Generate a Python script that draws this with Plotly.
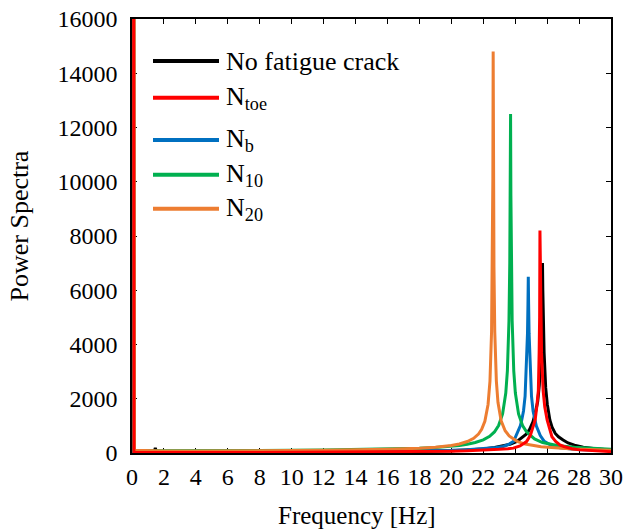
import plotly.graph_objects as go

# Power spectra of the test specimen at successive fatigue-crack stages
freq_intact = [0, 0.09, 0.12, 1, 1.38, 1.46, 1.54, 2, 4, 8, 12, 16, 18, 20, 21, 22, 22.71, 23.16,
               23.71, 24.11, 24.42, 24.71, 24.91, 25.11, 25.25, 25.41, 25.51, 25.61, 25.66, 25.69,
               25.71, 25.73, 25.76, 25.81, 25.91, 26.01, 26.17, 26.31, 26.51, 26.71, 27.0, 27.31,
               27.71, 28.26, 29.01, 30]
power_intact = [60000, 30000, 20, 12, 15, 190, 15, 14, 16, 20, 26, 38, 55, 80, 110, 150, 200, 250,
                330, 430, 560, 700, 880, 1150, 1450, 1900, 2500, 3700, 4900, 6000,
                7000, 6000, 4900, 3700, 2400, 1800, 1217, 950, 720, 600, 480, 370,
                290, 210, 160, 115]

freq_toe = [0, 0.09, 0.12, 1, 2, 4, 8, 12, 16, 18, 20, 21, 22, 23, 23.55, 23.88, 24.3, 24.71,
            24.95, 25.1, 25.25, 25.35, 25.45, 25.5, 25.53, 25.55, 25.57, 25.6, 25.65, 25.75,
            25.85, 26.0, 26.15, 26.3, 26.55, 26.8, 27.05, 27.55, 28.05, 28.55, 29.3, 30]
power_toe = [60000, 30000, 20, 15, 15, 17, 21, 27, 38, 49, 66, 80, 100, 135, 160, 180, 260, 420,
             650, 900, 1217, 1700, 2300, 3700, 5000, 8200, 6600, 5000, 3700, 2300,
             1700, 1217, 900, 600, 420, 300, 240, 160, 115, 95, 70, 50]

freq_b = [0, 0.09, 0.12, 1, 2, 4, 8, 12, 16, 18, 19, 20, 21, 22, 22.82, 23.25, 23.62, 23.9,
          24.07, 24.32, 24.41, 24.52, 24.62, 24.72, 24.77, 24.8, 24.82, 24.84, 24.87, 24.92,
          25.02, 25.12, 25.23, 25.32, 25.57, 25.82, 26.38, 26.82, 27.82, 28.82, 30]
power_b = [60000, 30000, 40, 35, 33, 35, 42, 52, 66, 74, 83, 98, 119, 155, 200, 240, 330, 430,
           640, 1000, 1217, 1550, 2100, 3300, 4400, 5500, 6500, 5500, 4400, 3300,
           2100, 1550, 1217, 1000, 640, 430, 240, 190, 130, 105, 85]

freq_10 = [0, 0.09, 0.12, 1, 2, 4, 8, 12, 16, 17, 18, 19, 20, 20.5, 21, 21.5, 22, 22.4, 22.7,
           22.96, 23.21, 23.41, 23.51, 23.61, 23.66, 23.69, 23.71, 23.73, 23.76, 23.81, 23.91,
           24.01, 24.21, 24.46, 24.71, 25.21, 25.71, 26.71, 27.71, 28.71, 30]
power_10 = [60000, 30000, 80, 78, 76, 80, 90, 110, 140, 155, 176, 205, 249, 280, 324, 386, 485, 613, 775,
            1010, 1440, 2210, 3030, 4870, 7000, 9500, 12500, 9500, 7000, 4870, 3030,
            2210, 1440, 1010, 780, 520, 385, 270, 210, 170, 140]

freq_20 = [0, 0.12, 0.15, 1, 2, 4, 8, 12, 16, 17, 18, 19, 19.5, 20, 20.5, 21, 21.4, 21.7, 21.9,
           22.1, 22.3, 22.42, 22.52, 22.57, 22.6, 22.62, 22.64, 22.67, 22.72, 22.82, 22.92,
           23.12, 23.37, 23.62, 24.12, 24.62, 25.62, 26.62, 27.62, 28.62, 30]
power_20 = [60000, 30000, 100, 75, 72, 75, 82, 100, 135, 152, 177, 214, 241, 279, 334, 422, 540, 700, 870,
            1170, 1790, 2650, 4480, 6870, 10120, 14800, 10120, 6870, 4480, 2650, 1870,
            1190, 820, 630, 430, 330, 230, 180, 145, 125, 105]

# drawing order: red on top of the others
series = [
    ("No fatigue crack", freq_intact, power_intact, "#000000"),
    ("N_b", freq_b, power_b, "#0070C0"),
    ("N_10", freq_10, power_10, "#00B050"),
    ("N_20", freq_20, power_20, "#ED7D31"),
    ("N_toe", freq_toe, power_toe, "#FF0000"),
]

# key entries, in the order they are listed
legend_labels = ["No fatigue crack", "N<sub>toe</sub>", "N<sub>b</sub>", "N<sub>10</sub>", "N<sub>20</sub>"]
legend_colors = ["#000000", "#FF0000", "#0070C0", "#00B050", "#ED7D31"]

x_ticks = list(range(0, 31, 2))
y_ticks = list(range(0, 16001, 2000))

FONT = "Liberation Serif"

fig = go.Figure()
for name, fx, py, col in series:
    fig.add_trace(go.Scatter(x=fx, y=py, mode="lines", name=name,
                             line=dict(color=col, width=3), showlegend=False))

# plot area in pixels
L, R, T, B = 132, 611, 19, 453
W, H = 625, 532
pw, ph = R - L, B - T


def px(xp):
    return (xp - L) / pw


def py_(yp):
    return (B - yp) / ph


legend_rows = [61, 97.7, 140, 174.7, 208.7]
shapes = []
annotations = []
for lab, col, yr in zip(legend_labels, legend_colors, legend_rows):
    shapes.append(dict(type="line", xref="paper", yref="paper",
                       x0=px(153), x1=px(219), y0=py_(yr), y1=py_(yr),
                       line=dict(color=col, width=4)))
    annotations.append(dict(text=lab, xref="paper", yref="paper", x=px(224), y=py_(yr),
                            xanchor="left", yanchor="middle", showarrow=False,
                            font=dict(family=FONT, size=26, color="#000000")))

annotations.append(dict(text="Frequency [Hz]", xref="paper", yref="paper",
                        x=px(357), y=py_(515), xanchor="center", yanchor="middle",
                        showarrow=False, font=dict(family=FONT, size=25, color="#000000")))
annotations.append(dict(text="Power Spectra", xref="paper", yref="paper",
                        x=px(19), y=py_(226.5), xanchor="center", yanchor="middle",
                        textangle=-90, showarrow=False,
                        font=dict(family=FONT, size=26, color="#000000")))

axis_common = dict(showline=True, linecolor="#000000", linewidth=1.5, mirror="ticks",
                   ticks="inside", ticklen=5, tickwidth=1, tickcolor="#000000",
                   showgrid=False, zeroline=False, layer="below traces", automargin=False,
                   tickfont=dict(family=FONT, size=24, color="#000000"))

fig.update_layout(
    width=W, height=H,
    margin=dict(l=L, r=W - R, t=T, b=H - B, pad=0),
    plot_bgcolor="#FFFFFF", paper_bgcolor="#FFFFFF",
    xaxis=dict(range=[0, 30], tickvals=x_ticks, ticktext=[str(v) for v in x_ticks],
               ticklabelstandoff=1, **axis_common),
    yaxis=dict(range=[0, 16000], tickvals=y_ticks, ticktext=[str(v) for v in y_ticks],
               ticklabelstandoff=8, **axis_common),
    shapes=shapes, annotations=annotations,
)

fig.write_html("out.html")
